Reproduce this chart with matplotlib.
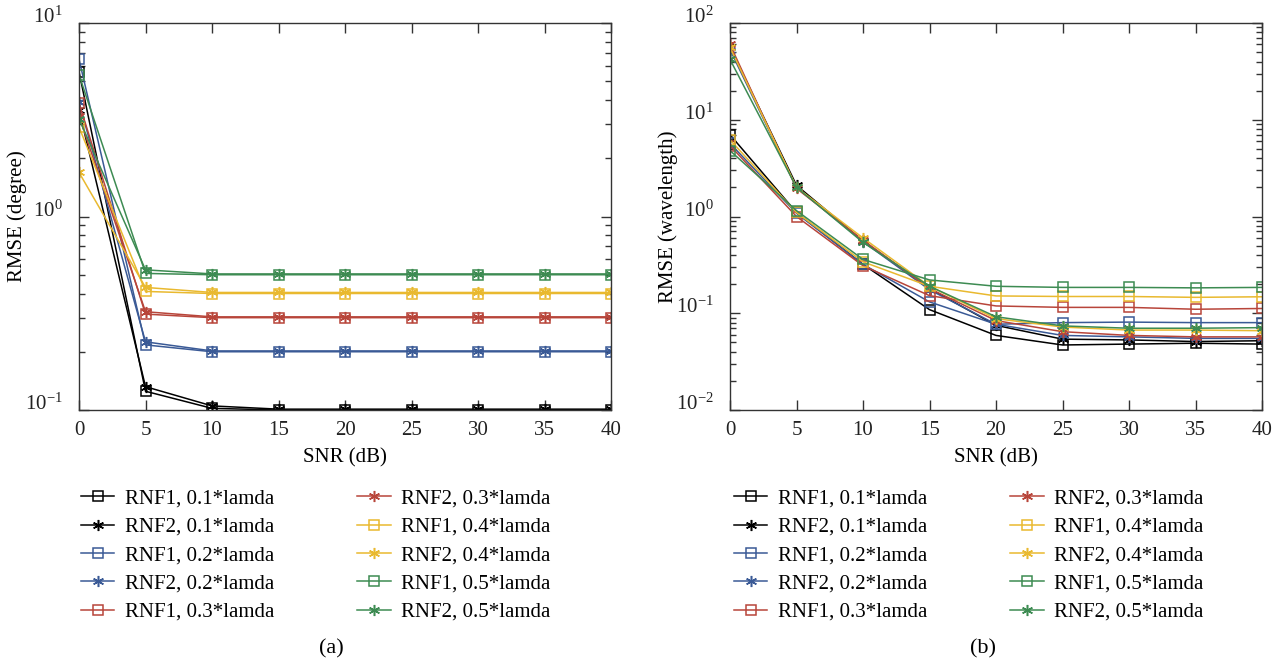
import matplotlib
matplotlib.use("Agg")
import matplotlib.pyplot as plt
from matplotlib.ticker import LogLocator, NullFormatter

plt.rcParams['font.family'] = ['Liberation Serif', 'DejaVu Serif']
plt.rcParams['mathtext.fontset'] = 'custom'
plt.rcParams['mathtext.rm'] = 'Liberation Serif'
plt.rcParams['mathtext.it'] = 'Liberation Serif:italic'

snr = [0, 5, 10, 15, 20, 25, 30, 35, 40]
labels = ["RNF1, 0.1*lamda", "RNF2, 0.1*lamda", "RNF1, 0.2*lamda", "RNF2, 0.2*lamda",
          "RNF1, 0.3*lamda", "RNF2, 0.3*lamda", "RNF1, 0.4*lamda", "RNF2, 0.4*lamda",
          "RNF1, 0.5*lamda", "RNF2, 0.5*lamda"]

# (a) RMSE in degree
a_rnf1_01 = [5.6, 0.125, 0.102, 0.1, 0.1, 0.1, 0.1, 0.1, 0.1]
a_rnf2_01 = [3.55, 0.132, 0.105, 0.101, 0.101, 0.101, 0.101, 0.101, 0.101]
a_rnf1_02 = [6.5, 0.217, 0.2, 0.2, 0.2, 0.2, 0.2, 0.2, 0.2]
a_rnf2_02 = [3.9, 0.225, 0.202, 0.202, 0.202, 0.202, 0.202, 0.202, 0.202]
a_rnf1_03 = [3.85, 0.313, 0.3, 0.3, 0.3, 0.3, 0.3, 0.3, 0.3]
a_rnf2_03 = [3.3, 0.322, 0.303, 0.303, 0.303, 0.303, 0.303, 0.303, 0.303]
a_rnf1_04 = [2.9, 0.41, 0.4, 0.4, 0.4, 0.4, 0.4, 0.4, 0.4]
a_rnf2_04 = [1.69, 0.43, 0.405, 0.405, 0.405, 0.405, 0.405, 0.405, 0.405]
a_rnf1_05 = [5.4, 0.508, 0.5, 0.5, 0.5, 0.5, 0.5, 0.5, 0.5]
a_rnf2_05 = [3.2, 0.53, 0.505, 0.505, 0.505, 0.505, 0.505, 0.505, 0.505]

# (b) RMSE in wavelength
b_rnf1_01 = [7.0, 1.1, 0.32, 0.109, 0.059, 0.047, 0.048, 0.049, 0.048]
b_rnf2_01 = [56, 2.1, 0.56, 0.18, 0.075, 0.054, 0.053, 0.051, 0.052]
b_rnf1_02 = [5.7, 1.08, 0.32, 0.131, 0.077, 0.080, 0.081, 0.080, 0.080]
b_rnf2_02 = [53, 2.0, 0.55, 0.175, 0.077, 0.059, 0.057, 0.055, 0.055]
b_rnf1_03 = [5.4, 1.0, 0.31, 0.152, 0.119, 0.115, 0.115, 0.110, 0.112]
b_rnf2_03 = [60, 1.95, 0.57, 0.18, 0.084, 0.0645, 0.059, 0.057, 0.057]
b_rnf1_04 = [6.2, 1.1, 0.34, 0.19, 0.151, 0.149, 0.149, 0.146, 0.148]
b_rnf2_04 = [56, 2.0, 0.60, 0.19, 0.088, 0.072, 0.067, 0.067, 0.066]
b_rnf1_05 = [4.8, 1.15, 0.36, 0.221, 0.19, 0.185, 0.185, 0.183, 0.185]
b_rnf2_05 = [42, 2.0, 0.54, 0.19, 0.092, 0.074, 0.070, 0.070, 0.071]

series_a = [a_rnf1_01, a_rnf2_01, a_rnf1_02, a_rnf2_02, a_rnf1_03, a_rnf2_03,
            a_rnf1_04, a_rnf2_04, a_rnf1_05, a_rnf2_05]
series_b = [b_rnf1_01, b_rnf2_01, b_rnf1_02, b_rnf2_02, b_rnf1_03, b_rnf2_03,
            b_rnf1_04, b_rnf2_04, b_rnf1_05, b_rnf2_05]

cols = ['#000000', '#3a5a96', '#b8453a', '#e9b92f', '#3d8b52']
colors = [c for c in cols for _ in range(2)]
markers = ['s', (6, 2, 0)] * 5

fig = plt.figure(figsize=(12.77, 6.65), dpi=100)
W, H = 1277, 665
axA = fig.add_axes([79 / W, 1 - 410 / H, 532 / W, 387 / H])
axB = fig.add_axes([730 / W, 1 - 410 / H, 532 / W, 387 / H])

FS = 15


def draw(ax, series, ylim, ylabel):
    handles = []
    for s, c, m in zip(series, colors, markers):
        if m == 's':
            h, = ax.plot(snr, s, color=c, lw=1.1, marker='s', ms=7,
                         mfc='none', mec=c, mew=1.1)
        else:
            h, = ax.plot(snr, s, color=c, lw=1.1, marker=m, ms=8,
                         mec=c, mew=1.1)
        handles.append(h)
    ax.set_yscale('log')
    ax.set_xlim(0, 40)
    ax.set_ylim(*ylim)
    ax.set_xticks(snr)
    ax.yaxis.set_minor_locator(LogLocator(base=10, subs=range(2, 10), numticks=20))
    ax.yaxis.set_minor_formatter(NullFormatter())
    ax.tick_params(which='both', direction='in', top=True, right=True,
                   labelsize=FS, colors='#333333', labelcolor='#222222')
    ax.tick_params(which='major', length=7, width=1.0)
    ax.tick_params(which='minor', length=4, width=1.0)
    ax.tick_params(axis='x', pad=8)
    ax.tick_params(axis='y', pad=12)
    for lbl in ax.get_yticklabels():
        lbl.set_verticalalignment('baseline')
    for sp in ax.spines.values():
        sp.set_color('#333333')
        sp.set_linewidth(1.0)
    ax.set_xlabel('SNR (dB)', fontsize=FS, labelpad=6)
    ax.set_ylabel(ylabel, fontsize=FS)
    ax.yaxis.set_label_coords(-0.098, 0.5)
    return handles


hA = draw(axA, series_a, (0.1, 10), 'RMSE (degree)')
hB = draw(axB, series_b, (0.01, 100), 'RMSE (wavelength)')

legkw = dict(loc='upper left', ncol=2, frameon=False, fontsize=FS,
             handlelength=1.6, handletextpad=0.5, columnspacing=4.0,
             labelspacing=0.42, borderaxespad=0, borderpad=0)
fig.legend(hA, labels, bbox_to_anchor=(81 / W, 1 - 489 / H), **legkw)
fig.legend(hB, labels, bbox_to_anchor=(734 / W, 1 - 489 / H), **legkw)

fig.text(331 / W, 1 - 649 / H, '(a)', fontsize=16, ha='center', va='center')
fig.text(983 / W, 1 - 649 / H, '(b)', fontsize=16, ha='center', va='center')

fig.savefig('out.png', dpi=100)
